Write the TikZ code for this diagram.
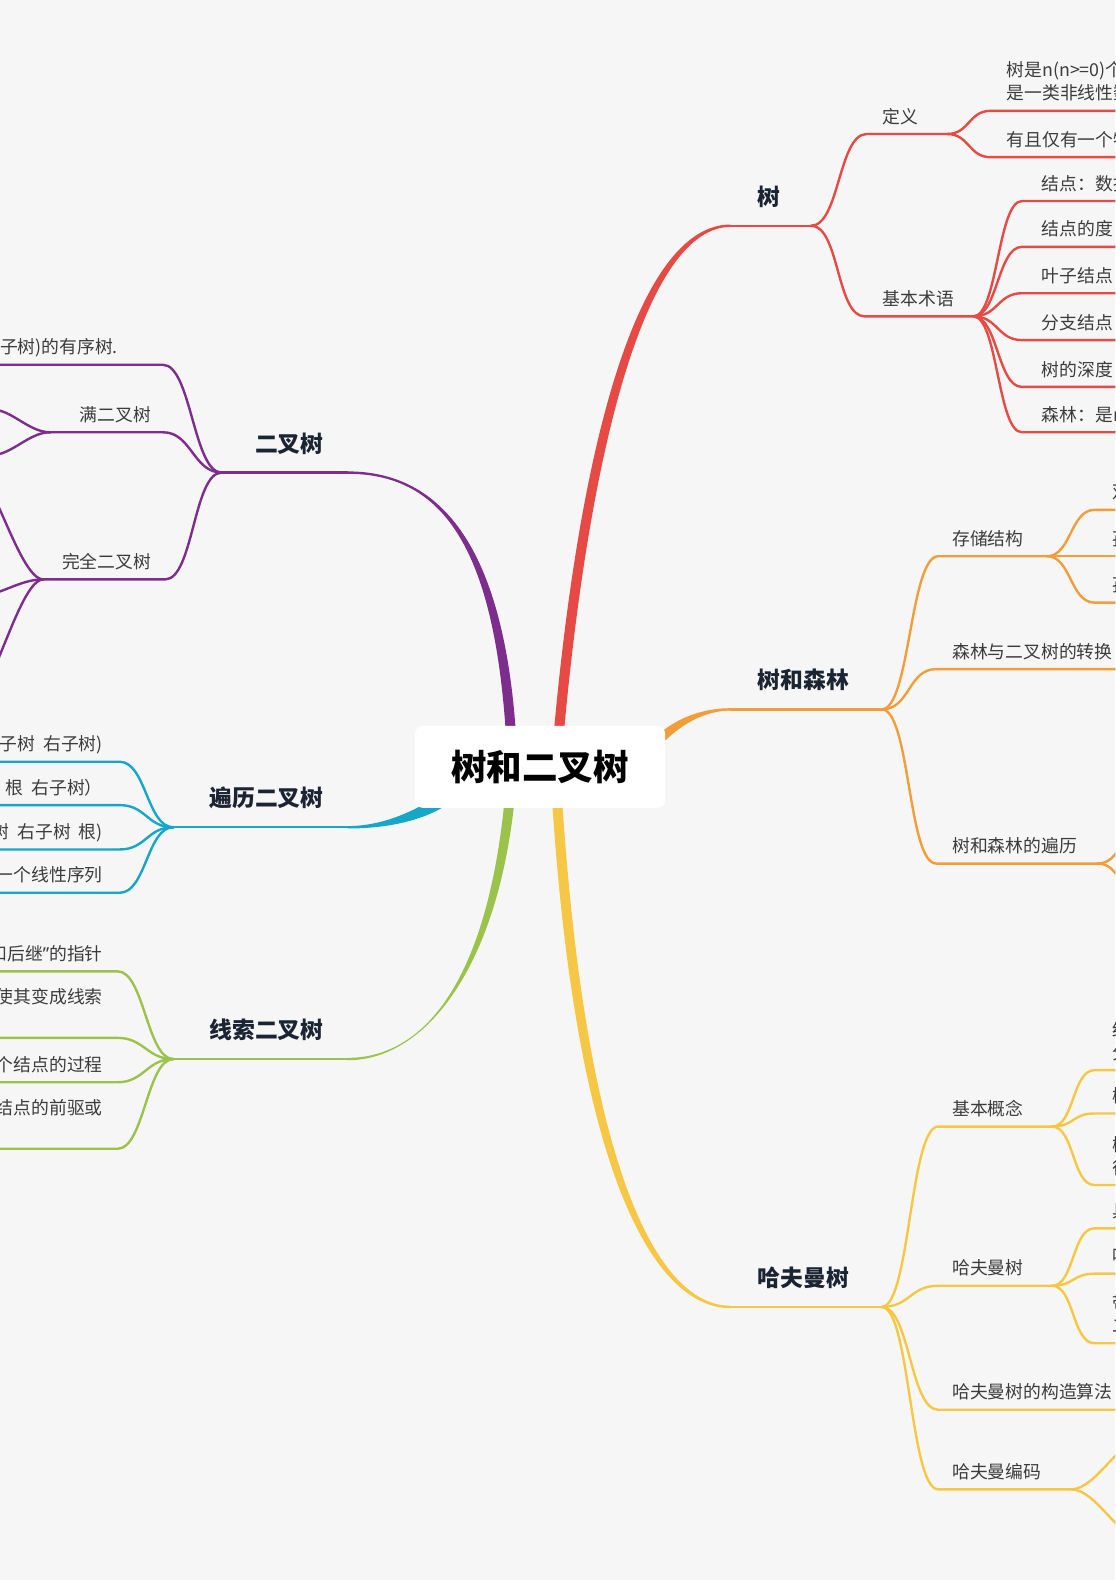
\documentclass[tikz,border=0pt]{standalone}
\usepackage{fontspec}
\usepackage{tikz}
\setmainfont{Noto Sans CJK SC}
\newfontfamily\quotefont{Noto Sans}
\definecolor{paper}{HTML}{F7F6F7}
\definecolor{inkgray}{HTML}{3C3C3C}
\definecolor{inknavy}{HTML}{1B2433}
\definecolor{treeRed}{HTML}{E54B44}
\definecolor{forestOrange}{HTML}{F19E3A}
\definecolor{huffYellow}{HTML}{F6C744}
\definecolor{binPurple}{HTML}{7D2D8C}
\definecolor{travCyan}{HTML}{16A6C8}
\definecolor{threadGreen}{HTML}{9BC34B}
\tikzset{
  mmcurve/.style={to path={.. controls +(#1,0) and +(-#1,0) .. (\tikztotarget)}},
  mmcurve/.default=28
}

\begin{document}
\begin{tikzpicture}[
  x=1.0072pt, y=-1.0072pt,
  leaf/.style={font=\fontsize{17.8}{23}\selectfont, text=inkgray, inner sep=0pt, outer xsep=0pt, outer ysep=4pt, align=left, execute at end node=\strut},
  leafR/.style={leaf, anchor=south west},
  leafL/.style={leaf, anchor=south east},
  limb/.style={font=\bfseries\fontsize{22.8}{27}\selectfont, text=inknavy, inner sep=0pt, outer xsep=0pt, outer ysep=12.4pt, execute at end node=\strut},
  limbR/.style={limb, anchor=south west},
  limbL/.style={limb, anchor=south east},
  twig/.style={line width=2.4pt, line cap=round}
]
\useasboundingbox (0,0) rectangle (1107,1568);
\fill[paper] (0,0) rectangle (1107,1568);
\clip (0,0) rectangle (1107,1568);
\coordinate (rimR) at (1140,0);
\coordinate (rimL) at (-30,0);

% Tapered trunks out of the root
\fill[treeRed] (548,745) .. controls (575,428) and (636,222.8) .. (725,222.8) -- (725,225.2) .. controls (644,225.2) and (585,432) .. (558,745) -- cycle;
\fill[forestOrange] (652,730) .. controls (672,712) and (698,702.8) .. (725,702.8) -- (725,705.2) .. controls (700,705.2) and (678,718) .. (660,735) -- cycle;
\fill[huffYellow] (547,780) .. controls (570,1162) and (648,1298.2) .. (725,1298.2) -- (725,1295.8) .. controls (652,1295.8) and (580,1158) .. (557,780) -- cycle;
\fill[binPurple] (513,745) .. controls (503,543) and (438,467.8) .. (345,467.8) -- (345,470.2) .. controls (442,470.2) and (493,548) .. (503,745) -- cycle;
\fill[travCyan] (440,786) .. controls (420,800) and (385,819.8) .. (345,819.8) -- (345,822.2) .. controls (390,822.2) and (425,812) .. (446,797) -- cycle;
\fill[threadGreen] (512,780) .. controls (497,958) and (423,1052.2) .. (345,1052.2) -- (345,1049.8) .. controls (427,1049.8) and (487,962) .. (502,780) -- cycle;

\node[fill=white, rounded corners=8pt, minimum width=250pt, minimum height=82pt, inner sep=0pt, font=\bfseries\fontsize{35.5}{40}\selectfont] (root) at (536,761) {树和二叉树};

% Tree (red)
\coordinate (shu-s) at (725,224);
\coordinate (shu-j) at (805,224);
\node[limbR] (shu) at (752,224) {树};
\draw[twig, treeRed] (shu-s) -- (shu-j);
\node[leafR] (dingyi) at (876,133) {定义};
\coordinate (dingyi-j) at (940,133);
\draw[twig, treeRed] (shu-j) to[mmcurve] ([xshift=-16pt]dingyi.south west) -- (dingyi-j);
\node[leafR] (dy-a) at (999,110) {树是n(n>=0)个\\是一类非线性数};
\node[leafR] (dy-b) at (999,156) {有且仅有一个特};
\draw[twig, treeRed] (dingyi-j) to[mmcurve=22] ([xshift=-16pt]dy-a.south west) -- (dy-a.south west -| rimR);
\draw[twig, treeRed] (dingyi-j) to[mmcurve=22] ([xshift=-16pt]dy-b.south west) -- (dy-b.south west -| rimR);
\node[leafR] (shuyu) at (876,314) {基本术语};
\coordinate (shuyu-j) at (966,314);
\draw[twig, treeRed] (shu-j) to[mmcurve] ([xshift=-18pt]shuyu.south west) -- (shuyu-j);
\node[leafR] (sy-a) at (1034,199.5) {结点：数据};
\node[leafR] (sy-b) at (1034,245) {结点的度};
\node[leafR] (sy-c) at (1034,291) {叶子结点};
\node[leafR] (sy-d) at (1034,337.5) {分支结点};
\node[leafR] (sy-e) at (1034,384) {树的深度};
\node[leafR] (sy-f) at (1034,429) {森林：是m};
\draw[twig, treeRed] (shuyu-j) to[mmcurve=24] ([xshift=-20pt]sy-a.south west) -- (sy-a.south west -| rimR);
\draw[twig, treeRed] (shuyu-j) to[mmcurve=24] ([xshift=-20pt]sy-b.south west) -- (sy-b.south west -| rimR);
\draw[twig, treeRed] (shuyu-j) to[mmcurve=24] ([xshift=-20pt]sy-c.south west) -- (sy-c.south west -| rimR);
\draw[twig, treeRed] (shuyu-j) to[mmcurve=24] ([xshift=-20pt]sy-d.south west) -- (sy-d.south west -| rimR);
\draw[twig, treeRed] (shuyu-j) to[mmcurve=24] ([xshift=-20pt]sy-e.south west) -- (sy-e.south west -| rimR);
\draw[twig, treeRed] (shuyu-j) to[mmcurve=24] ([xshift=-20pt]sy-f.south west) -- (sy-f.south west -| rimR);

% Tree and forest (orange)
\coordinate (sl-s) at (725,704);
\coordinate (sl-j) at (875,704);
\node[limbR] (senlin) at (752,704) {树和森林};
\draw[twig, forestOrange] (sl-s) -- (sl-j);
\node[leafR] (cunchu) at (945,552) {存储结构};
\coordinate (cunchu-j) at (1039,552);
\draw[twig, forestOrange] (sl-j) to[mmcurve] ([xshift=-14pt]cunchu.south west) -- (cunchu-j);
\node[leafR] (cc-a) at (1104,506) {双};
\node[leafR] (cc-b) at (1104,552) {孩};
\node[leafR] (cc-c) at (1104,598) {孩};
\draw[twig, forestOrange] (cunchu-j) to[mmcurve=24] ([xshift=-18pt]cc-a.south west) -- (cc-a.south west -| rimR);
\draw[twig, forestOrange] (cunchu-j) -- (cc-b.south west -| rimR);
\draw[twig, forestOrange] (cunchu-j) to[mmcurve=24] ([xshift=-18pt]cc-c.south west) -- (cc-c.south west -| rimR);
\node[leafR] (zhuanhuan) at (945,664) {森林与二叉树的转换};
\draw[twig, forestOrange] (sl-j) to[mmcurve] ([xshift=-16pt]zhuanhuan.south west) -- (zhuanhuan.south west -| rimR);
\node[leafR] (slbl) at (945,857) {树和森林的遍历};
\coordinate (slbl-j) at (1089,857);
\draw[twig, forestOrange] (sl-j) to[mmcurve] ([xshift=-16pt]slbl.south west) -- (slbl-j);
\coordinate (slbl-a) at (1135,822);
\coordinate (slbl-b) at (1135,892);
\draw[twig, forestOrange] (slbl-j) to[mmcurve=25] (slbl-a);
\draw[twig, forestOrange] (slbl-j) to[mmcurve=25] (slbl-b);

% Huffman (yellow)
\coordinate (hf-s) at (725,1297);
\coordinate (hf-j) at (875,1297);
\node[limbR] (hafuman) at (752,1297) {哈夫曼树};
\draw[twig, huffYellow] (hf-s) -- (hf-j);
\node[leafR] (gainian) at (945,1118) {基本概念};
\coordinate (gainian-j) at (1044,1118);
\draw[twig, huffYellow] (hf-j) to[mmcurve] ([xshift=-14pt]gainian.south west) -- (gainian-j);
\node[leafR] (gn-a) at (1104,1062) {结\\分};
\node[leafR] (gn-b) at (1104,1105) {树};
\node[leafR] (gn-c) at (1104,1176) {树\\径};
\draw[twig, huffYellow] (gainian-j) to[mmcurve=22] ([xshift=-18pt]gn-a.south west) -- (gn-a.south west -| rimR);
\draw[twig, huffYellow] (gainian-j) to[mmcurve=22] ([xshift=-18pt]gn-b.south west) -- (gn-b.south west -| rimR);
\draw[twig, huffYellow] (gainian-j) to[mmcurve=22] ([xshift=-18pt]gn-c.south west) -- (gn-c.south west -| rimR);
\node[leafR] (hfshu) at (945,1276) {哈夫曼树};
\coordinate (hfshu-j) at (1044,1276);
\draw[twig, huffYellow] (hf-j) to[mmcurve] ([xshift=-14pt]hfshu.south west) -- (hfshu-j);
\node[leafR] (hs-a) at (1104,1219) {具};
\node[leafR] (hs-b) at (1104,1264) {哈};
\node[leafR] (hs-c) at (1104,1333) {带\\二};
\draw[twig, huffYellow] (hfshu-j) to[mmcurve=22] ([xshift=-18pt]hs-a.south west) -- (hs-a.south west -| rimR);
\draw[twig, huffYellow] (hfshu-j) to[mmcurve=22] ([xshift=-18pt]hs-b.south west) -- (hs-b.south west -| rimR);
\draw[twig, huffYellow] (hfshu-j) to[mmcurve=22] ([xshift=-18pt]hs-c.south west) -- (hs-c.south west -| rimR);
\node[leafR] (gouzao) at (945,1399) {哈夫曼树的构造算法};
\draw[twig, huffYellow] (hf-j) to[mmcurve] ([xshift=-14pt]gouzao.south west) -- (gouzao.south west -| rimR);
\node[leafR] (bianma) at (945,1478) {哈夫曼编码};
\coordinate (bianma-j) at (1063,1478);
\draw[twig, huffYellow] (hf-j) to[mmcurve] ([xshift=-14pt]bianma.south west) -- (bianma-j);
\coordinate (bm-a) at (1135,1428);
\coordinate (bm-b) at (1135,1528);
\draw[twig, huffYellow] (bianma-j) to[mmcurve=25] (bm-a);
\draw[twig, huffYellow] (bianma-j) to[mmcurve=25] (bm-b);

% Binary tree (purple)
\coordinate (ec-s) at (345,469);
\coordinate (ec-j) at (220,469);
\node[limbL] (erchashu) at (321,469) {二叉树};
\draw[twig, binPurple] (ec-s) -- (ec-j);
\node[leafL] (ecdef) at (117,362) {右子树)的有序树.};
\draw[twig, binPurple] (ecdef.south east -| rimL) -- ([xshift=45pt]ecdef.south east) to[mmcurve] (ec-j);
\node[leafL] (manecs) at (150,429) {满二叉树};
\coordinate (manecs-j) at (50,429);
\draw[twig, binPurple] (manecs-j) -- ([xshift=12pt]manecs.south east) to[mmcurve] (ec-j);
\coordinate (me-a) at (-10,406);
\coordinate (me-b) at (-10,452);
\draw[twig, binPurple] (me-a) to[mmcurve=22] (manecs-j);
\draw[twig, binPurple] (me-b) to[mmcurve=22] (manecs-j);
\node[leafL] (wqecs) at (150,575) {完全二叉树};
\coordinate (wqecs-j) at (43,575);
\draw[twig, binPurple] (wqecs-j) -- ([xshift=14pt]wqecs.south east) to[mmcurve] (ec-j);
\coordinate (wq-a) at (-35,455);
\coordinate (wq-b) at (-25,592);
\coordinate (wq-c) at (-35,705);
\draw[twig, binPurple] (wq-a) to[mmcurve=25] (wqecs-j);
\draw[twig, binPurple] (wq-b) to[mmcurve=25] (wqecs-j);
\draw[twig, binPurple] (wq-c) to[mmcurve=25] (wqecs-j);

% Traversal (cyan)
\coordinate (bl-s) at (345,821);
\coordinate (bl-j) at (172,821);
\node[limbL] (bianli) at (321,821) {遍历二叉树};
\draw[twig, travCyan] (bl-s) -- (bl-j);
\node[leafL] (bl-a) at (102,756) {左子树~~右子树)};
\node[leafL] (bl-b) at (102,799) {左子树~~根~~右子树）};
\node[leafL] (bl-c) at (102,843) {左子树~~右子树~~根)};
\node[leafL] (bl-d) at (102,886) {一个线性序列};
\draw[twig, travCyan] (bl-a.south east -| rimL) -- ([xshift=17pt]bl-a.south east) to[mmcurve=26] (bl-j);
\draw[twig, travCyan] (bl-b.south east -| rimL) -- ([xshift=17pt]bl-b.south east) to[mmcurve=26] (bl-j);
\draw[twig, travCyan] (bl-c.south east -| rimL) -- ([xshift=17pt]bl-c.south east) to[mmcurve=26] (bl-j);
\draw[twig, travCyan] (bl-d.south east -| rimL) -- ([xshift=17pt]bl-d.south east) to[mmcurve=26] (bl-j);

% Threaded binary tree (green)
\coordinate (xs-s) at (345,1051);
\coordinate (xs-j) at (172,1051);
\node[limbL] (xiansuo) at (321,1051) {线索二叉树};
\draw[twig, threadGreen] (xs-s) -- (xs-j);
\node[leafL] (xs-a) at (102,964) {前驱和后继{\quotefont ”}的指针};
\node[leafL] (xs-b) at (102,1030) {使其变成线索\\};
\node[leafL] (xs-c) at (102,1074) {个结点的过程};
\node[leafL] (xs-d) at (102,1140) {结点的前驱或\\};
\draw[twig, threadGreen] (xs-a.south east -| rimL) -- ([xshift=15pt]xs-a.south east) to[mmcurve=26] (xs-j);
\draw[twig, threadGreen] (xs-b.south east -| rimL) -- ([xshift=15pt]xs-b.south east) to[mmcurve=26] (xs-j);
\draw[twig, threadGreen] (xs-c.south east -| rimL) -- ([xshift=15pt]xs-c.south east) to[mmcurve=26] (xs-j);
\draw[twig, threadGreen] (xs-d.south east -| rimL) -- ([xshift=15pt]xs-d.south east) to[mmcurve=26] (xs-j);
\end{tikzpicture}
\end{document}
